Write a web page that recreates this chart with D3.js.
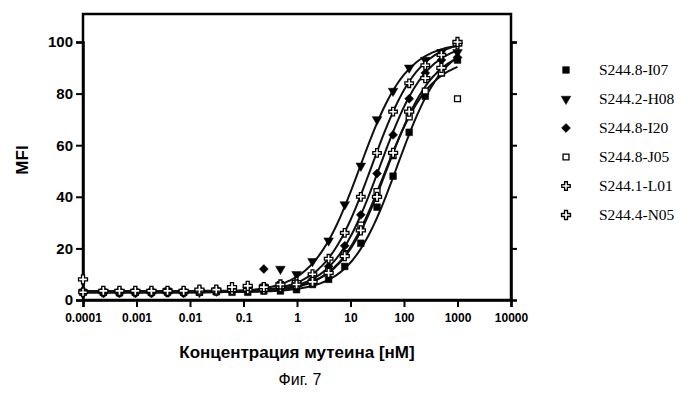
<!DOCTYPE html>
<html><head><meta charset="utf-8">
<script src="https://cdn.jsdelivr.net/npm/d3@7"></script>
<style>body{margin:0;background:#fff}</style></head>
<body><svg id="c" width="700" height="400"></svg>
<script>
// 2-fold dilution series, nM
const conc = [1000, 500, 250, 125, 62.5, 31.3, 15.6, 7.8, 3.9, 1.95, 0.98, 0.49, 0.24, 0.12,
  0.061, 0.031, 0.015, 0.0076, 0.0038, 0.0019, 0.00095, 0.00048, 0.00024, 0.0001];
const seriesNames = ['S244.8-I07', 'S244.2-H08', 'S244.8-I20', 'S244.8-J05', 'S244.1-L01', 'S244.4-N05'];
const valI07 = [93, 88, 79, 65, 48, 36, 22, 13, 8, 6, 4, 3.5, 3.5, 3, 3, 3.2, 3, 3, 3.4, 3, 3, 2.8, 3, 3];
const valH08 = [96, 96, 93, 90, 81, 70, 52, 37, 23, 15, 10, 12, 5, 4, 4, 3.5, 3, 3, 3.5, 3, 3, 3, 3, 3];
const valI20 = [94, 93, 88, 78, 64, 49, 33, 21, 13, 8, 6, 5, 12, 4, 4, 4, 3.5, 3, 3, 3, 3.2, 3, 3, 3];
const valJ05 = [78, 88, 81, 71, 56, 42, 29, 18, 11, 7, 5.5, 6, 5, 4, 4, 3.5, 3, 3, 3, 3, 3, 3, 3, 3];
const valL01 = [99, 95, 91, 84, 73, 57, 40, 26, 16, 10, 7, 5, 4, 4, 3.8, 3.5, 3.5, 3, 3, 3, 3, 3, 3, 3];
const valN05 = [100, 90, 86, 73, 57, 40, 27, 17, 10.5, 7, 6, 6, 5, 5.5, 5, 4, 4, 3.5, 3.5, 3.5, 3.5, 3.5, 3.5, 8];
// fitted curve parameters: [bottom, top, EC50, hill]
const fits = [[3, 101, 75, 1], [3, 100, 15, 1], [3, 100, 35, 1], [3, 94, 42, 1], [3, 101, 25, 1], [3.5, 98, 48, 1]];
const xTicks = [0.0001, 0.001, 0.01, 0.1, 1, 10, 100, 1000, 10000];
const yTicks = [0, 20, 40, 60, 80, 100];

const allVals = [valI07, valH08, valI20, valJ05, valL01, valN05];
const svg = d3.select('#c');
const m = { l: 83, r: 511, t: 14, b: 300 };
const x = d3.scaleLog().domain([0.0001, 10000]).range([m.l, m.r]);
const y = d3.scaleLinear().domain([0, 100]).range([m.b, 42]);

// frame
svg.append('rect').attr('x', m.l).attr('y', m.t).attr('width', m.r - m.l).attr('height', m.b - m.t)
  .attr('fill', 'none').attr('stroke', '#000').attr('stroke-width', 2.5);

const xa = svg.append('g').attr('transform', `translate(0,${m.b})`)
  .call(d3.axisBottom(x).tickValues(xTicks).tickFormat(d => String(d)).tickSize(7));
xa.selectAll('text').attr('font-size', 12).attr('font-weight', 'bold').attr('dy', '1.0em');
const ya = svg.append('g').attr('transform', `translate(${m.l},0)`)
  .call(d3.axisLeft(y).tickValues(yTicks).tickSize(7));
ya.selectAll('text').attr('font-size', 15).attr('font-weight', 'bold');
svg.append('g').attr('transform', `translate(${m.r},0)`)
  .call(d3.axisRight(y).tickValues(yTicks.slice(1)).tickSize(6).tickFormat(''));
svg.selectAll('.domain').attr('stroke-width', 2.5);
svg.selectAll('.tick line').attr('stroke-width', 2);
svg.selectAll('text').attr('font-family', 'Liberation Sans, Arial, sans-serif').attr('fill', '#000');

// fitted curves
const grid = d3.range(-4, 3.05, 0.05).map(e => Math.pow(10, e));
const line = d3.line().x(d => x(d[0])).y(d => y(d[1])).curve(d3.curveBasis);
fits.forEach(([b, t, ec, h]) => {
  const pts = grid.map(c => [c, b + (t - b) / (1 + Math.pow(ec / c, h))]);
  svg.append('path').attr('d', line(pts)).attr('fill', 'none').attr('stroke', '#111').attr('stroke-width', 2);
});

// markers
const shapes = [d3.symbolSquare, d3.symbolTriangle, d3.symbolSquare, d3.symbolSquare, d3.symbolCross, d3.symbolCross];
const sizes = [45, 40, 40, 35, 40, 45];
const rots = [0, 180, 45, 0, 0, 0];
const fills = ['#000', '#000', '#000', '#fff', '#fff', '#fff'];
function marker(g, i, cx, cy) {
  g.append('path').attr('d', d3.symbol(shapes[i], sizes[i])())
    .attr('transform', `translate(${cx},${cy}) rotate(${rots[i]})`)
    .attr('fill', fills[i]).attr('stroke', '#000').attr('stroke-width', i > 2 ? 1.3 : 0.5);
}
const pg = svg.append('g');
allVals.forEach((vals, i) => vals.forEach((v, k) => marker(pg, i, x(conc[k]), y(v))));

// legend
const lg = svg.append('g');
seriesNames.forEach((n, i) => {
  const yy = 70 + i * 29;
  marker(lg, i, 566, yy);
  lg.append('text').attr('x', 599).attr('y', yy + 5).text(n)
    .attr('font-family', 'Liberation Serif, Times New Roman, serif').attr('font-size', 15.5);
});

// titles
svg.append('text').attr('transform', 'translate(28,160) rotate(-90)').attr('text-anchor', 'middle')
  .attr('font-family', 'Liberation Sans, Arial, sans-serif').attr('font-weight', 'bold').attr('font-size', 17).text('MFI');
svg.append('text').attr('x', 297).attr('y', 358).attr('text-anchor', 'middle')
  .attr('font-family', 'Liberation Sans, Arial, sans-serif').attr('font-weight', 'bold').attr('font-size', 17)
  .text('Концентрация мутеина [нМ]');
svg.append('text').attr('x', 300).attr('y', 385).attr('text-anchor', 'middle')
  .attr('font-family', 'Liberation Sans, Arial, sans-serif').attr('font-size', 16).text('Фиг. 7');
</script></body></html>
